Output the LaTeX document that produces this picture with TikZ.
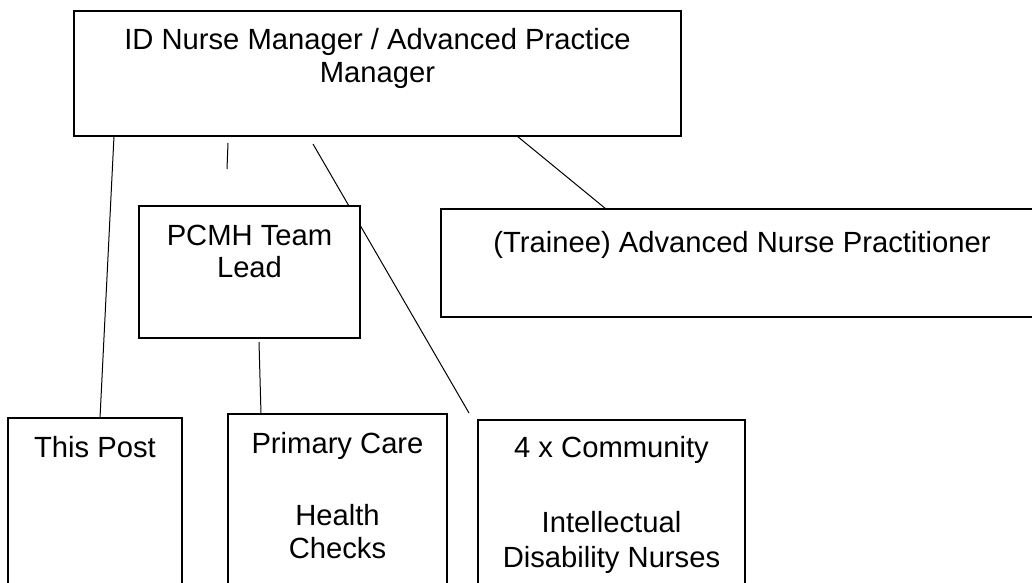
\documentclass[tikz,border=0pt]{standalone}
\usepackage{fontspec}
\setmainfont{Liberation Sans}
\usetikzlibrary{calc,backgrounds}
\begin{document}
\begin{tikzpicture}[x=1pt,y=-1pt,
  box/.style={draw=black,line width=1.3pt,fill=white,inner sep=0pt,outer sep=0pt},
  txt/.style={anchor=base,inner sep=0pt,outer sep=0pt,font=\fontsize{29.2}{33.6}\selectfont},
  conn/.style={draw=black,line width=1pt}]
\useasboundingbox (0,0) rectangle (1032,582);
\clip (0,0) rectangle (1032,582);
% boxes
\node[box,minimum width=607pt,minimum height=125pt] (top) at (377.5,73.5) {};
\node[box,minimum width=221pt,minimum height=132pt] (pcmh) at (249.5,272) {};
\node[box,minimum width=602pt,minimum height=108pt] (trainee) at (742,263) {};
\node[box,minimum width=174pt,minimum height=182pt] (post) at (95,509) {};
\node[box,minimum width=219pt,minimum height=186pt] (pc) at (337.5,507) {};
\node[box,minimum width=267pt,minimum height=180pt] (comm) at (611.5,510) {};
% texts
\node[txt] (topA) at (377.5,49) {ID Nurse Manager / Advanced Practice};
\node[txt] (topB) at (377.5,82) {Manager};
\node[txt] (pcmhA) at (249.5,245) {PCMH Team};
\node[txt] (pcmhB) at (249.5,277) {Lead};
\node[txt] (trA) at (742,252) {(Trainee) Advanced Nurse Practitioner};
\node[txt] (postA) at (95,457) {This Post};
\node[txt] (pcA) at (337.5,453) {Primary Care};
\node[txt] (pcB) at (337.5,525) {Health};
\node[txt] (pcC) at (337.5,558) {Checks};
\node[txt] (cmA) at (611.5,457) {4 x Community};
\node[txt] (cmB) at (611.5,532) {Intellectual};
\node[txt] (cmC) at (611.5,567) {Disability Nurses};
% free connector ends
\coordinate (s1) at (228,143);
\coordinate (s2) at (227,169);
\coordinate (d1) at (313,144);
\coordinate (d2) at (469,413);
\begin{scope}[on background layer]
  \fill[white] (0,0) rectangle (1032,582);
  \draw[conn] ($(top.south west)+(40,0)$) -- ($(post.north west)+(92,0)$);
  \draw[conn] (s1) -- (s2);
  \draw[conn] (d1) -- (d2);
  \draw[conn] ($(pcmh.south west)+(120,4)$) -- ($(pc.north west)+(33,0)$);
  \draw[conn] ($(top.south west)+(443,0)$) -- ($(trainee.north west)+(165,0)$);
\end{scope}
\end{tikzpicture}
\end{document}
